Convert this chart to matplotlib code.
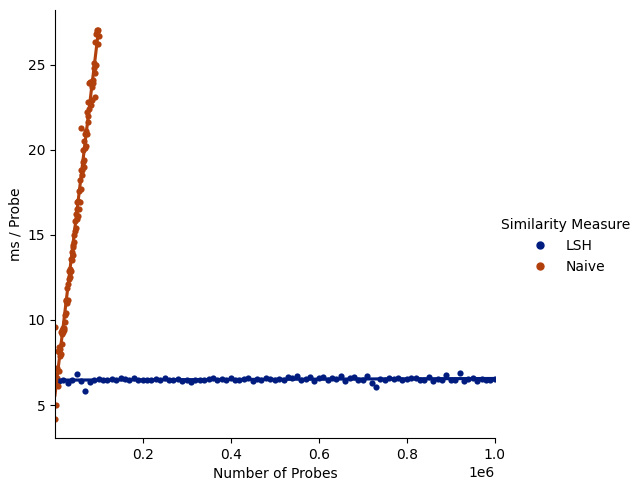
import numpy as np
import pandas as pd
import seaborn as sns
import matplotlib
matplotlib.use("Agg")
import matplotlib.pyplot as plt
from matplotlib.lines import Line2D

# naive probes: 1k .. 100k, step 1k
naive_x = [1000 * k for k in range(1, 101)]
naive_y = [4.2, 9.6, 5.0, 6.2, 6.6, 7.2, 6.1, 8.2, 8.1, 7.0,
           8.4, 7.9, 8.3, 9.3, 8.0, 9.4, 9.2, 8.6, 9.5, 9.3,
           9.5, 9.4, 10.3, 9.9, 11.1, 10.4, 11.2, 11.0, 11.9, 11.2,
           12.1, 12.4, 12.9, 13.0, 12.5, 12.8, 13.6, 12.9, 14.0, 13.5,
           14.4, 13.8, 14.3, 15.0, 14.6, 15.8, 15.2, 16.2, 15.4, 15.9,
           16.5, 16.9, 16.1, 17.0, 16.5, 17.6, 16.9, 18.2, 18.8, 17.7,
           21.3, 18.8, 18.5, 19.3, 20.0, 19.0, 20.5, 19.4, 20.1, 20.9,
           20.2, 21.1, 22.2, 20.9, 22.8, 21.6, 22.0, 23.9, 22.4, 24.0,
           23.9, 22.6, 24.0, 23.7, 24.0, 22.9, 24.1, 23.9, 24.8, 25.1,
           24.5, 26.3, 23.1, 25.0, 26.8, 27.0, 26.9, 27.0, 26.2, 26.7]

# LSH probes: 10k .. 1M, step 10k
lsh_x = [10000 * k for k in range(1, 101)]
lsh_y = [6.4, 6.5, 6.3, 6.45, 6.8, 6.4, 5.8, 6.35, 6.5, 6.55,
         6.45, 6.5, 6.55, 6.45, 6.6, 6.55, 6.5, 6.6, 6.45, 6.5,
         6.45, 6.5, 6.55, 6.5, 6.6, 6.5, 6.5, 6.55, 6.4, 6.45,
         6.35, 6.45, 6.5, 6.45, 6.55, 6.6, 6.5, 6.55, 6.45, 6.6,
         6.5, 6.45, 6.55, 6.6, 6.4, 6.55, 6.5, 6.6, 6.55, 6.45,
         6.55, 6.5, 6.65, 6.6, 6.7, 6.5, 6.55, 6.65, 6.4, 6.6,
         6.65, 6.45, 6.6, 6.55, 6.7, 6.4, 6.6, 6.65, 6.5, 6.45,
         6.7, 6.3, 6.05, 6.55, 6.5, 6.6, 6.55, 6.6, 6.5, 6.55,
         6.6, 6.6, 6.45, 6.5, 6.65, 6.4, 6.55, 6.5, 6.75, 6.45,
         6.5, 6.9, 6.4, 6.55, 6.6, 6.4, 6.55, 6.45, 6.5, 6.55]

groups = ["LSH", "Naive"]

df = pd.DataFrame({
    "Number of Probes": lsh_x + naive_x,
    "ms / Probe": lsh_y + naive_y,
    "Similarity Measure": ["LSH"] * len(lsh_x) + ["Naive"] * len(naive_x),
})

colors = sns.color_palette("dark", 2)

g = sns.lmplot(data=df, x="Number of Probes", y="ms / Probe",
               hue="Similarity Measure", palette=colors, ci=None,
               scatter_kws={"s": 20, "alpha": 1, "linewidths": 0},
               legend=False)
g.set(xlim=(min(naive_x), max(lsh_x)))

fig = g.figure
fig.set_size_inches(6.32, 4.82)
fig.subplots_adjust(left=0.087, right=0.783, bottom=0.091, top=0.979)

handles = [Line2D([], [], marker="o", linestyle="none", color=c, markersize=5)
           for c in colors]
fig.legend(handles, groups, title="Similarity Measure", loc="center right",
           bbox_to_anchor=(1.017, 0.49), frameon=False)

fig.savefig("out.png", dpi=100)
